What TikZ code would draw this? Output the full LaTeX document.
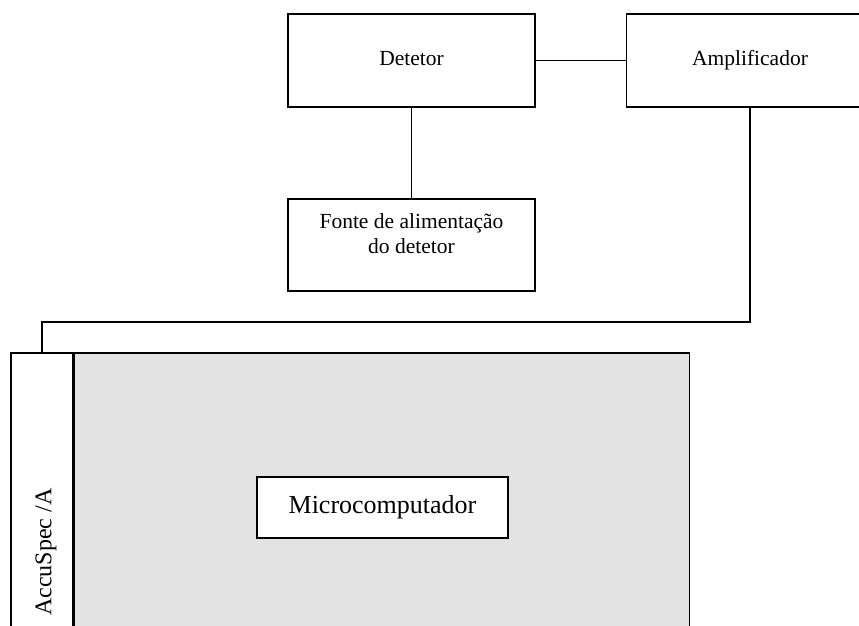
\documentclass[tikz,border=0pt]{standalone}
\usepackage{fontspec}
\setmainfont{Liberation Serif}
\usetikzlibrary{positioning}
\definecolor{cinza}{HTML}{E3E3E3}
\tikzset{
    caixa/.style={draw, line width=0.75pt, inner sep=0pt, minimum width=123.5pt, minimum height=46.5pt, font=\fontsize{10.75}{12.5}\selectfont},
    umalinha/.style={text height=0.69em, text depth=0.22em},
    grande/.style={font=\fontsize{13}{15}\selectfont},
}

\begin{document}
\begin{tikzpicture}[x=0.5pt,y=-0.5pt,line width=0.75pt]
    \useasboundingbox (0,0) rectangle (859,626);
    \clip (0,0) rectangle (859,626);
    \node[caixa, umalinha] (detetor) at (411.5,60.5) {Detetor};
    \node[caixa, umalinha] (amplificador) at (750,60.5) {Amplificador};
    \node[caixa, minimum height=46pt, align=center, text depth=11pt] (fonte) at (411.5,245) {Fonte de alimentação\\do detetor};
    \node[draw, font=\fontsize{12}{14}\selectfont, inner sep=0pt, minimum width=31pt, minimum height=199pt] (placa) at (42,552) {\kern4pt\rotatebox{90}{AccuSpec /A}};
    \node[draw, fill=cinza, inner sep=0pt, minimum width=307.5pt, minimum height=199pt, right=0pt of placa] (pc) {};
    \node[draw, fill=white, grande, inner sep=0pt, minimum width=125.5pt, minimum height=30.5pt] (micro) at (382.5,507.5) {Microcomputador};
    \coordinate (dobra) at (42,322);
    \draw (detetor) -- (amplificador);
    \draw (detetor) -- (fonte);
    \draw (amplificador.south) |- (dobra) -- (placa.north);
\end{tikzpicture}
\end{document}
